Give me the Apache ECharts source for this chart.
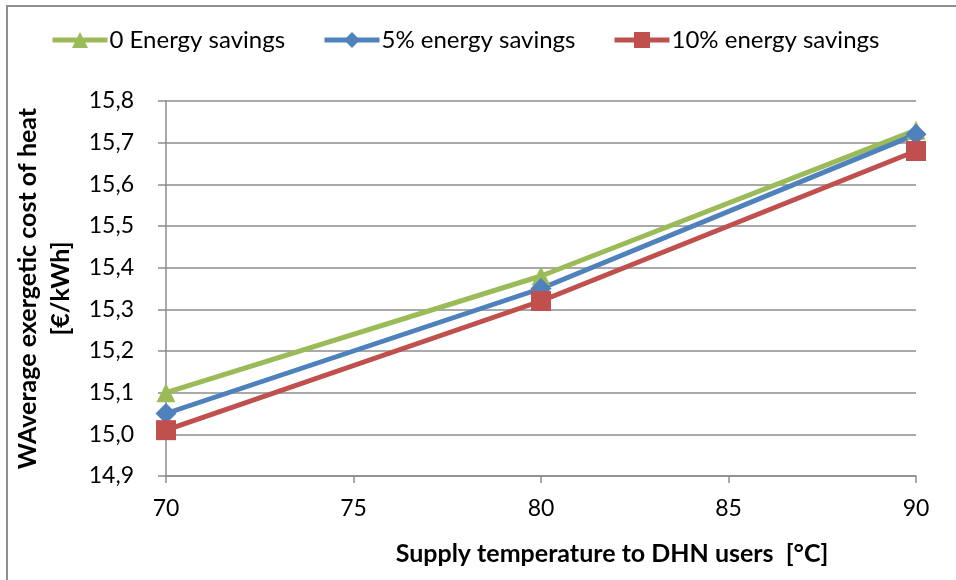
<!DOCTYPE html>
<html>
<head>
<meta charset="utf-8">
<script src="https://cdn.jsdelivr.net/npm/echarts@6/dist/echarts.min.js"></script>
<style>
  html, body { margin: 0; padding: 0; background: #fff; overflow: hidden; }
  #frame { position: absolute; left: 6px; top: 5px; width: 960px; height: 600px; border: 2px solid #8e8e8e; box-sizing: border-box; }
  #chart { position: absolute; left: 0; top: 0; width: 956px; height: 580px; }
</style>
</head>
<body>
<div id="frame"></div>
<div id="chart"></div>
<script>
  // supply temperature [°C]
  var temps = [70, 80, 90];
  var seriesNames = ['0 Energy savings', '5% energy savings', '10% energy savings'];
  var noSavings = [15.10, 15.38, 15.73];
  var fiveSavings = [15.05, 15.35, 15.72];
  var tenSavings = [15.01, 15.32, 15.68];

  var font = 'Lato, "Open Sans", sans-serif';
  var legendLefts = [45, 317, 607];

  function pairs(vals) {
    return temps.map(function (t, i) { return [t, vals[i]]; });
  }

  var chart = echarts.init(document.getElementById('chart'));
  chart.setOption({
    backgroundColor: 'transparent',
    animation: false,
    legend: seriesNames.map(function (n, i) {
      return {
        left: legendLefts[i],
        top: 23,
        itemWidth: 55,
        itemHeight: 20,
        itemGap: 0,
        lineStyle: { width: 5 },
        textStyle: { fontFamily: font, fontSize: 24, color: '#000', padding: [0, 0, 0, -3] },
        data: [n]
      };
    }),
    title: {
      text: 'Supply temperature to DHN users  [°C]',
      left: 607,
      top: 536,
      textAlign: 'center',
      textStyle: { fontFamily: font, fontSize: 25, fontWeight: 'bold', color: '#000' }
    },
    grid: { left: 166, right: 40, top: 101, bottom: 104, outerBoundsMode: 'none' },
    xAxis: {
      type: 'value',
      min: 70,
      max: 90,
      interval: 5,
      axisLine: { lineStyle: { color: '#8c8c8c', width: 1.5 } },
      axisTick: { show: true, length: 7, lineStyle: { color: '#8c8c8c', width: 1.5 } },
      axisLabel: { fontFamily: font, fontSize: 23, color: '#000', margin: 21 },
      splitLine: { show: false }
    },
    yAxis: {
      type: 'value',
      min: 14.9,
      max: 15.8,
      interval: 0.1,
      name: 'WAverage exergetic cost of heat\n[€/kWh]',
      nameLocation: 'middle',
      nameGap: 87,
      nameTextStyle: { fontFamily: font, fontSize: 25, fontWeight: 'bold', color: '#000', lineHeight: 33 },
      axisLine: { show: true, lineStyle: { color: '#8c8c8c', width: 1.5 } },
      axisTick: { show: true, length: 8, lineStyle: { color: '#8c8c8c', width: 1.5 } },
      axisLabel: {
        fontFamily: font, fontSize: 23, color: '#000', margin: 32,
        formatter: function (v) { return v.toFixed(1).replace('.', ','); }
      },
      splitLine: { show: true, lineStyle: { color: '#8c8c8c', width: 1.5 } }
    },
    series: [
      {
        name: seriesNames[0], type: 'line', data: pairs(noSavings),
        symbol: 'triangle', symbolSize: 19,
        lineStyle: { color: '#9bbb59', width: 5 },
        itemStyle: { color: '#9bbb59' }
      },
      {
        name: seriesNames[1], type: 'line', data: pairs(fiveSavings),
        symbol: 'diamond', symbolSize: 21,
        lineStyle: { color: '#4f81bd', width: 5 },
        itemStyle: { color: '#4f81bd' }
      },
      {
        name: seriesNames[2], type: 'line', data: pairs(tenSavings),
        symbol: 'rect', symbolSize: 20,
        lineStyle: { color: '#c0504d', width: 5 },
        itemStyle: { color: '#c0504d' }
      }
    ]
  });
</script>
</body>
</html>
